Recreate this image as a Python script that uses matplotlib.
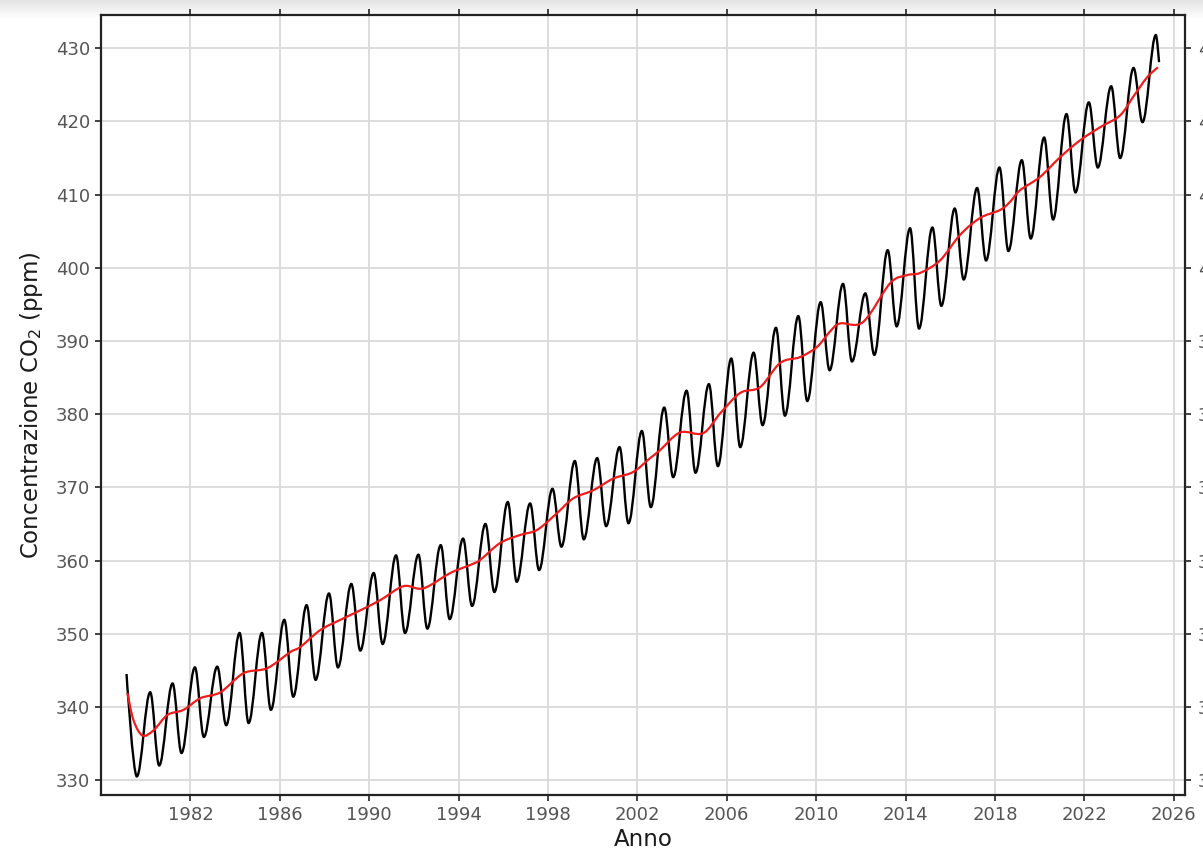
import numpy as np
import matplotlib
matplotlib.use("Agg")
import matplotlib.pyplot as plt
from matplotlib.path import Path
from matplotlib.patches import PathPatch
from matplotlib.colors import LinearSegmentedColormap

# seasonal curve (black): first point, yearly troughs (1979-2024), yearly peaks (1980-2025), last point
start_point = (1979.14, 344.5)
end_point = (2025.34, 428.1)
trough_years = list(range(1979, 2025))
trough_values = [330.5, 332.0, 333.7, 335.9, 337.5, 337.8, 339.6, 341.4, 343.7, 345.4,
                 347.7, 348.6, 350.1, 350.7, 352.0, 353.8, 355.7, 357.1, 358.7, 361.9,
                 362.9, 364.7, 365.1, 367.3, 371.4, 372.0, 372.9, 375.5, 378.5, 379.8,
                 381.8, 386.0, 387.2, 388.1, 392.0, 391.7, 394.8, 398.4, 401.0, 402.3,
                 404.0, 406.6, 410.3, 413.7, 415.0, 419.9]
peak_years = list(range(1980, 2026))
peak_values = [342.0, 343.2, 345.4, 345.5, 350.1, 350.1, 351.9, 353.9, 355.5, 356.8,
               358.3, 360.7, 360.8, 362.1, 363.0, 365.0, 368.0, 367.8, 369.8, 373.6,
               374.0, 375.5, 377.7, 380.9, 383.2, 384.1, 387.6, 388.4, 391.8, 393.4,
               395.3, 397.8, 396.5, 402.4, 405.4, 405.5, 408.1, 410.9, 413.7, 414.7,
               417.8, 421.0, 422.6, 424.8, 427.3, 431.8]
peak_offset = 0.20
trough_offset = 0.60

# trend (red)
trend_years = [1979.18, 1979.45, 1979.85, 1980.35, 1980.97, 1981.69, 1982.45, 1983.34,
               1984.37, 1985.44, 1986.47, 1986.92, 1987.81, 1988.71, 1989.60, 1990.50,
               1991.53, 1992.42, 1993.63, 1994.52, 1994.97, 1995.86, 1996.76, 1997.52,
               1998.41, 1999.13, 2000.02, 2000.92, 2001.81, 2002.57, 2003.02, 2003.91,
               2004.94, 2005.70, 2006.60, 2007.49, 2008.39, 2009.28, 2010.04, 2010.62,
               2011.07, 2012.10, 2013.31, 2014.07, 2014.65, 2015.54, 2016.44, 2017.33,
               2018.23, 2018.67, 2019.12, 2020.01, 2020.91, 2021.80, 2022.70, 2023.59,
               2024.17, 2024.80, 2025.29]
trend_values = [341.9, 338.2, 336.1, 336.8, 338.9, 339.6, 341.2, 342.0,
                344.6, 345.3, 347.5, 348.2, 350.5, 351.9, 353.2, 354.6,
                356.5, 356.2, 358.3, 359.4, 360.1, 362.4, 363.5, 364.2,
                366.5, 368.5, 369.6, 371.2, 372.1, 374.0, 375.1, 377.5,
                377.4, 380.1, 382.9, 383.7, 387.0, 387.8, 389.2, 391.3,
                392.4, 392.6, 397.9, 399.0, 399.3, 401.0, 404.5, 406.8,
                407.9, 409.0, 410.6, 412.4, 415.1, 417.4, 419.2, 420.8,
                423.3, 426.0, 427.4]


def extremes_path(points, k=0.36):
    # bezier segments with flat tangents at each extreme
    verts = [points[0]]
    codes = [Path.MOVETO]
    for i in range(1, len(points)):
        x0, y0 = points[i - 1]
        x1, y1 = points[i]
        dx = x1 - x0
        k0 = 0.0 if i == 1 else k
        k1 = 0.0 if i == len(points) - 1 else k
        verts += [(x0 + dx * k0, y0), (x1 - dx * k1, y1), (x1, y1)]
        codes += [Path.CURVE4] * 3
    return Path(verts, codes)


def smooth_path(xs, ys):
    # catmull-rom style bezier through the points
    pts = np.column_stack([xs, ys])
    n = len(pts)
    verts = [tuple(pts[0])]
    codes = [Path.MOVETO]
    for i in range(n - 1):
        p0 = pts[max(i - 1, 0)]
        p1 = pts[i]
        p2 = pts[i + 1]
        p3 = pts[min(i + 2, n - 1)]
        c1 = p1 + (p2 - p0) / 6.0
        c2 = p2 - (p3 - p1) / 6.0
        verts += [tuple(c1), tuple(c2), tuple(p2)]
        codes += [Path.CURVE4] * 3
    return Path(verts, codes)


extremes = [start_point]
for i in range(len(trough_years)):
    extremes.append((trough_years[i] + trough_offset, trough_values[i]))
    extremes.append((peak_years[i] + peak_offset, peak_values[i]))
extremes.append(end_point)

fig = plt.figure(figsize=(12.03, 8.5), dpi=100)

# light grey shading along the top edge
bg = fig.add_axes([0, 0.978, 1, 0.022], zorder=0)
shade = LinearSegmentedColormap.from_list("shade", ["white", "#e4e4e4"])
bg.imshow(np.linspace(0, 1, 50).reshape(-1, 1), cmap=shade, origin="lower",
          aspect="auto", extent=[0, 1, 0, 1])
bg.axis("off")

ax = fig.add_axes([0.084, 0.065, 0.901, 0.917], zorder=1)
ax.set_facecolor("white")

ax.add_patch(PathPatch(extremes_path(extremes), fill=False, edgecolor="black",
                       lw=1.7, zorder=3))
ax.add_patch(PathPatch(smooth_path(trend_years, trend_values), fill=False,
                       edgecolor="#ee1c1c", lw=1.6, zorder=4))

ax.set_xlim(1978.0, 2026.5)
ax.set_ylim(328.0, 434.5)
ax.set_xticks(range(1982, 2027, 4))
ax.set_yticks(range(330, 431, 10))
ax.grid(True, color="#dadada", lw=1.3)
ax.set_axisbelow(True)

for s in ax.spines.values():
    s.set_color("#222222")
    s.set_linewidth(1.6)

ax.tick_params(axis="both", which="major", direction="out", length=4.5, width=1.3,
               color="#333333", labelsize=13, labelcolor="#555555", top=True)

# right axis, same scale (labels run off the image edge as in the screenshot)
right = ax.twinx()
right.set_ylim(ax.get_ylim())
right.set_yticks(range(330, 431, 10))
right.tick_params(axis="y", direction="out", length=4.5, width=1.3, color="#333333",
                  labelsize=13, labelcolor="#555555", pad=5)
for s in right.spines.values():
    s.set_visible(False)

ax.set_xlabel("Anno", fontsize=16.5, color="#1a1a1a", labelpad=3)
ax.set_ylabel("Concentrazione CO$_2$ (ppm)", fontsize=16.5, color="#1a1a1a", labelpad=8)

fig.savefig("out.png", dpi=100)
